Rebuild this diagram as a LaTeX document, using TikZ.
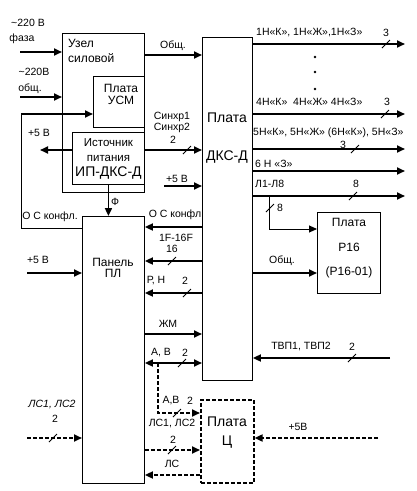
\documentclass[tikz,border=0pt]{standalone}
\usepackage{fontspec}
\setmainfont{Liberation Sans}
\usetikzlibrary{arrows.meta}

\tikzset{
  box/.style={draw, line width=0.9pt, fill=white, anchor=north west, inner sep=0pt},
  dbox/.style={box, line width=1.6pt, dash pattern=on 4pt off 2pt},
  arr/.style={line width=1.8pt, -{Triangle[length=8pt,width=7pt]}},
  arrs/.style={line width=0.9pt, -{Triangle[length=8pt,width=7pt]}},
  darr/.style={arr, dash pattern=on 4pt off 2pt},
  lbl/.style={inner sep=0pt, font=\fontsize{10.5}{12}\selectfont},
  mid/.style={inner sep=0pt, font=\fontsize{12}{14}\selectfont},
  big/.style={inner sep=0pt, font=\fontsize{14}{16}\selectfont},
}

\begin{document}
\begin{tikzpicture}[x=1pt, y=-1pt]

                    \useasboundingbox (0,0) rectangle (417,491);

                    % blocks
                    \node[box, minimum width=82pt, minimum height=159pt] (uzel) at (62,33) {};
                    \node[box, minimum width=51pt, minimum height=51pt] (usm) at (93,76) {};
                    \node[box, minimum width=72pt, minimum height=52pt, align=center,
                          font=\fontsize{11.5}{15}\selectfont] (ist) at (72,132)
                          {Источник\\питания\\{\fontsize{14}{15}\selectfont ИП-ДКС-Д}};
                    \node[box, minimum width=62pt, minimum height=267pt] (pl) at (82,216) {};
                    \node[box, minimum width=50pt, minimum height=343pt] (dks) at (202,37) {};
                    \node[box, minimum width=63pt, minimum height=81pt] (p16) at (317,212) {};
                    \node[dbox, minimum width=53pt, minimum height=83pt] (ts) at (200,399) {};

                    \node[mid, anchor=west] (uzel1) at (68,43) {Узел};
                    \node[mid, anchor=west] (uzel2) at (68,58) {силовой};
                    \node[mid] (usm1) at (121,88) {Плата};
                    \node[mid] (usm2) at (121,100) {УСМ};
                    \node[mid] (pl1) at (113,262) {Панель};
                    \node[mid] (pl2) at (113,273) {ПЛ};
                    \node[big] (dks1) at (227,118) {Плата};
                    \node[big] (dks2) at (227,157) {ДКС-Д};
                    \node[mid] (p161) at (349,222) {Плата};
                    \node[mid] (p162) at (349,247) {Р16};
                    \node[mid] (p163) at (349,272) {(Р16-01)};
                    \node[big] (ts1) at (227,422) {Плата};
                    \node[big] (ts2) at (227,442) {Ц};

                    % free ends
                    \coordinate (phase) at (20,52);
                    \coordinate (zero) at (20,97);
                    \coordinate (oskc) at (21,114);
                    \coordinate (pwra) at (40,150);
                    \coordinate (pwrb) at (164,186);
                    \coordinate (pwrc) at (27,273);
                    \coordinate (lsin) at (27,438);
                    \coordinate (pwrd) at (378,438);
                    \coordinate (tvp) at (390,358);
                    \coordinate (av) at (158,363);
                    \coordinate (br) at (269,196);

                    % left side
                    \draw[arr] (phase) -- (uzel.west |- phase);
                    \draw[arr] (zero) -- (uzel.west |- zero);
                    \draw[line width=0.9pt] (pl.west |- 0,228) -| (oskc);
                    \draw[arr] (oskc) -- (usm.west |- oskc);
                    \draw[arr] (ist.west |- pwra) -- (pwra);
                    \draw[arr] (pwrc) -- (pl.west |- pwrc);
                    \draw[darr] (lsin) -- (pl.west |- lsin);
                    \draw[arr] (ist.south) -- (pl.north -| ist.south);

                    % between the boards
                    \draw[arr] (uzel.east |- 0,55) -- (dks.west |- 0,55);
                    \draw[arr] (ist.east |- 0,150) -- (dks.west |- 0,150);
                    \draw[arr] (pwrb) -- (dks.west |- pwrb);
                    \draw[arr] (dks.west |- 0,227) -- (pl.east |- 0,227);
                    \draw[arr] (dks.west |- 0,261) -- (pl.east |- 0,261);
                    \draw[arr] (dks.west |- 0,293) -- (pl.east |- 0,293);
                    \draw[arr] (pl.east |- 0,334) -- (dks.west |- 0,334);
                    \draw[line width=1.8pt, {Triangle[length=8pt,width=7pt]}-{Triangle[length=8pt,width=7pt]}]
                          (pl.east |- av) -- (dks.west |- av);
                    \draw[darr] (av) |- (ts.west |- 0,413);
                    \draw[darr] (pl.east |- 0,450) -- (ts.west |- 0,450);
                    \draw[darr] (ts.west |- 0,475) -- (pl.east |- 0,475);
                    \draw[darr] (pwrd) -- (ts.east |- pwrd);
                    \draw[arr] (tvp) -- (dks.east |- tvp);
                    \draw[arr] (dks.east |- 0,273) -- (p16.west |- 0,273);

                    % outputs
                    \foreach \y in {44,114,149,171,196}
                    \draw[arr] (dks.east |- 0,\y) -- (405,\y) coordinate (out\y);
                    \draw[arrs] (br) |- (p16.west |- 0,229);
                    \foreach \y in {57,72,89}
                    \fill (315,\y) circle (1.3pt);

                    % bus marks
                    \foreach \x/\y in {187/150, 172/261, 187/293, 182/363, 177/413, 172/450, 53/438,
                                       352/358, 386/44, 385/114, 355/149, 353/196, 270/208}
                    \draw[line width=0.8pt] ({\x-4},{\y+4}) -- ({\x+4},{\y-4});

                    % labels
                    \node[lbl] (l1) at (28,23) {\textasciitilde 220 В};
                    \node[lbl] (l2) at (22,39) {фаза};
                    \node[lbl] (l3) at (34,72) {\textasciitilde 220В};
                    \node[lbl] (l4) at (30,89) {общ.};
                    \node[lbl] (l5) at (39,133) {+5 В};
                    \node[lbl] (l6) at (50,217) {О С конфл.};
                    \node[lbl] (l7) at (115,202) {Ф};
                    \node[lbl] (l8) at (38,260) {+5 В};
                    \node[lbl, font=\fontsize{10.5}{12}\selectfont\itshape] (l9) at (52,405) {ЛС1, ЛС2};
                    \node[lbl] (l10) at (55,419) {2};

                    \node[lbl] (m1) at (173,46) {Общ.};
                    \node[lbl] (m2) at (172,117) {Синхр1};
                    \node[lbl] (m3) at (172,128) {Синхр2};
                    \node[lbl] (m4) at (173,140) {2};
                    \node[lbl] (m5) at (177,179) {+5 В};
                    \node[lbl] (m6) at (175,215) {О С конфл};
                    \node[lbl] (m7) at (176,238) {1F-16F};
                    \node[lbl] (m8) at (172,249) {16};
                    \node[lbl] (m9) at (156,281) {Р, Н};
                    \node[lbl] (m10) at (185,281) {2};
                    \node[lbl] (m11) at (168,324) {ЖМ};
                    \node[lbl] (m12) at (161,353) {А, В};
                    \node[lbl] (m13) at (185,353) {2};
                    \node[lbl] (m14) at (171,401) {А,В};
                    \node[lbl] (m15) at (190,401) {2};
                    \node[lbl] (m16) at (172,424) {ЛС1, ЛС2};
                    \node[lbl] (m17) at (173,440) {2};
                    \node[lbl] (m18) at (172,464) {ЛС};

                    \node[lbl, anchor=west] (r1) at (256,33) {1Н«К», 1Н«Ж»,1Н«З»};
                    \node[lbl] (r2) at (386,33) {3};
                    \node[lbl, anchor=west] (r3) at (256,102) {4Н«К»\ \ 4Н«Ж» 4Н«З»};
                    \node[lbl] (r4) at (387,102) {3};
                    \node[lbl, anchor=west] (r5) at (253,133) {5Н«К», 5Н«Ж» (6Н«К»), 5Н«З»};
                    \node[lbl] (r6) at (343,145) {3};
                    \node[lbl, anchor=west] (r7) at (255,164) {6 Н «З»};
                    \node[lbl, anchor=west] (r8) at (255,184) {Л1-Л8};
                    \node[lbl] (r9) at (356,184) {8};
                    \node[lbl] (r10) at (280,208) {8};
                    \node[lbl] (r11) at (282,261) {Общ.};
                    \node[lbl] (r12) at (301,347) {ТВП1, ТВП2};
                    \node[lbl] (r13) at (352,347) {2};
                    \node[lbl] (r14) at (298,427) {+5В};
                \end{tikzpicture}
\end{document}
